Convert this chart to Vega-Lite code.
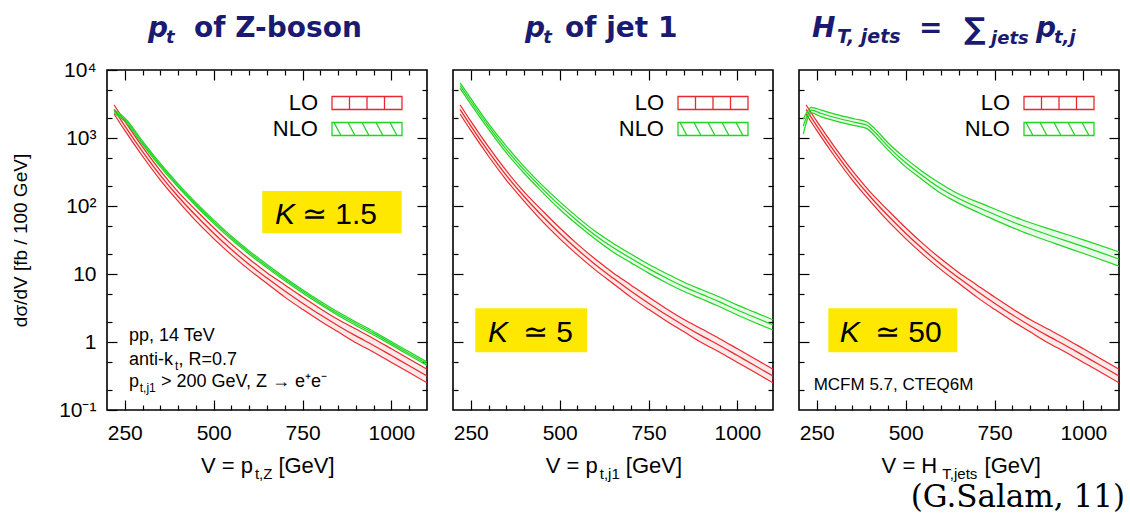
{
"$schema": "https://vega.github.io/schema/vega-lite/v6.json",
"background": "white",
"padding": {"left": 10, "top": 14, "right": 0, "bottom": 0},
"datasets": {"curves": [
{"p":"all","s":"LO","v":220,"lo":2248,"c":2630,"hi":3077},
{"p":"all","s":"LO","v":250,"lo":1291,"c":1510,"hi":1767},
{"p":"all","s":"LO","v":300,"lo":539,"c":631,"hi":738},
{"p":"all","s":"LO","v":350,"lo":241,"c":282,"hi":330},
{"p":"all","s":"LO","v":400,"lo":118,"c":138,"hi":161},
{"p":"all","s":"LO","v":450,"lo":60.3,"c":72.4,"hi":86.9},
{"p":"all","s":"LO","v":500,"lo":33.2,"c":39.8,"hi":47.8},
{"p":"all","s":"LO","v":550,"lo":19.1,"c":22.9,"hi":27.5},
{"p":"all","s":"LO","v":600,"lo":11.5,"c":13.8,"hi":16.6},
{"p":"all","s":"LO","v":650,"lo":7.26,"c":8.71,"hi":10.45},
{"p":"all","s":"LO","v":700,"lo":4.57,"c":5.62,"hi":6.91},
{"p":"all","s":"LO","v":750,"lo":3.02,"c":3.72,"hi":4.58},
{"p":"all","s":"LO","v":800,"lo":2.04,"c":2.51,"hi":3.09},
{"p":"all","s":"LO","v":850,"lo":1.41,"c":1.74,"hi":2.14},
{"p":"all","s":"LO","v":900,"lo":0.976,"c":1.23,"hi":1.55},
{"p":"all","s":"LO","v":950,"lo":0.707,"c":0.891,"hi":1.12},
{"p":"all","s":"LO","v":1000,"lo":0.501,"c":0.631,"hi":0.795},
{"p":"all","s":"LO","v":1050,"lo":0.355,"c":0.447,"hi":0.563},
{"p":"all","s":"LO","v":1100,"lo":0.251,"c":0.316,"hi":0.398},
{"p":"Z","s":"NLO","v":220,"lo":2311,"c":2450,"hi":2597},
{"p":"Z","s":"NLO","v":250,"lo":1755,"c":1860,"hi":1972},
{"p":"Z","s":"NLO","v":300,"lo":803,"c":851,"hi":902},
{"p":"Z","s":"NLO","v":350,"lo":375,"c":398,"hi":422},
{"p":"Z","s":"NLO","v":400,"lo":189,"c":200,"hi":212},
{"p":"Z","s":"NLO","v":450,"lo":100,"c":106,"hi":112},
{"p":"Z","s":"NLO","v":500,"lo":55.6,"c":58.9,"hi":62.4},
{"p":"Z","s":"NLO","v":550,"lo":32.0,"c":33.9,"hi":35.9},
{"p":"Z","s":"NLO","v":600,"lo":19.5,"c":20.7,"hi":21.9},
{"p":"Z","s":"NLO","v":650,"lo":12.3,"c":13.0,"hi":13.8},
{"p":"Z","s":"NLO","v":700,"lo":7.93,"c":8.41,"hi":8.91},
{"p":"Z","s":"NLO","v":750,"lo":5.25,"c":5.56,"hi":5.89},
{"p":"Z","s":"NLO","v":800,"lo":3.55,"c":3.76,"hi":3.99},
{"p":"Z","s":"NLO","v":850,"lo":2.45,"c":2.60,"hi":2.76},
{"p":"Z","s":"NLO","v":900,"lo":1.75,"c":1.86,"hi":1.97},
{"p":"Z","s":"NLO","v":950,"lo":1.27,"c":1.35,"hi":1.43},
{"p":"Z","s":"NLO","v":1000,"lo":0.901,"c":0.955,"hi":1.01},
{"p":"Z","s":"NLO","v":1050,"lo":0.638,"c":0.676,"hi":0.717},
{"p":"Z","s":"NLO","v":1100,"lo":0.452,"c":0.479,"hi":0.508},
{"p":"J","s":"NLO","v":220,"lo":5355,"c":5890,"hi":6479},
{"p":"J","s":"NLO","v":250,"lo":3155,"c":3470,"hi":3817},
{"p":"J","s":"NLO","v":300,"lo":1345,"c":1480,"hi":1628},
{"p":"J","s":"NLO","v":350,"lo":604,"c":676,"hi":757},
{"p":"J","s":"NLO","v":400,"lo":303,"c":339,"hi":380},
{"p":"J","s":"NLO","v":450,"lo":162.5,"c":182,"hi":204},
{"p":"J","s":"NLO","v":500,"lo":89.5,"c":102,"hi":116},
{"p":"J","s":"NLO","v":550,"lo":52.9,"c":60.3,"hi":68.7},
{"p":"J","s":"NLO","v":600,"lo":32.6,"c":37.2,"hi":42.4},
{"p":"J","s":"NLO","v":650,"lo":21.1,"c":24.5,"hi":28.4},
{"p":"J","s":"NLO","v":700,"lo":14.7,"c":17.0,"hi":19.7},
{"p":"J","s":"NLO","v":750,"lo":10.3,"c":12.0,"hi":13.9},
{"p":"J","s":"NLO","v":800,"lo":7.44,"c":8.71,"hi":10.2},
{"p":"J","s":"NLO","v":850,"lo":5.52,"c":6.46,"hi":7.56},
{"p":"J","s":"NLO","v":900,"lo":4.28,"c":5.01,"hi":5.86},
{"p":"J","s":"NLO","v":950,"lo":3.30,"c":3.89,"hi":4.59},
{"p":"J","s":"NLO","v":1000,"lo":2.50,"c":2.95,"hi":3.48},
{"p":"J","s":"NLO","v":1050,"lo":1.92,"c":2.29,"hi":2.73},
{"p":"J","s":"NLO","v":1100,"lo":1.50,"c":1.78,"hi":2.12},
{"p":"H","s":"NLO","v":212,"lo":1150,"c":1500,"hi":1900},
{"p":"H","s":"NLO","v":235,"lo":2336,"c":2570,"hi":2827},
{"p":"H","s":"NLO","v":263,"lo":2045,"c":2290,"hi":2565},
{"p":"H","s":"NLO","v":310,"lo":1741,"c":1950,"hi":2184},
{"p":"H","s":"NLO","v":357,"lo":1518,"c":1700,"hi":1904},
{"p":"H","s":"NLO","v":390,"lo":1384,"c":1550,"hi":1736},
{"p":"H","s":"NLO","v":413,"lo":1080,"c":1220,"hi":1375},
{"p":"H","s":"NLO","v":450,"lo":668,"c":755,"hi":852},
{"p":"H","s":"NLO","v":497,"lo":389,"c":447,"hi":514},
{"p":"H","s":"NLO","v":544,"lo":250,"c":288,"hi":331},
{"p":"H","s":"NLO","v":591,"lo":164,"c":192,"hi":225},
{"p":"H","s":"NLO","v":638,"lo":118,"c":138,"hi":161},
{"p":"H","s":"NLO","v":731,"lo":69.2,"c":83,"hi":99.6},
{"p":"H","s":"NLO","v":825,"lo":42.6,"c":52,"hi":63.4},
{"p":"H","s":"NLO","v":919,"lo":28.2,"c":35,"hi":43.4},
{"p":"H","s":"NLO","v":1013,"lo":19.0,"c":24,"hi":30.2},
{"p":"H","s":"NLO","v":1100,"lo":13.0,"c":16.6,"hi":21.2}
]},
"spacing": 26,
"bounds": "flush",
"resolve": {"scale": {"x": "independent", "y": "independent", "stroke": "independent"}, "legend": {"stroke": "independent"}},
"hconcat": [
{
"width": 320, "height": 340,
"resolve": {"axis": {"x": "independent", "y": "independent"}},
"layer": [
{"data": {"name": "curves"}, "transform": [{"filter": "datum.p === 'all'"}],
 "mark": {"type": "area", "color": "#e8292b", "opacity": 0.1, "interpolate": "monotone", "clip": true},
 "encoding": {
  "x": {"field": "v", "type": "quantitative", "scale": {"domain": [200, 1100], "nice": false, "zero": false},
        "axis": {"orient": "bottom", "values": [250,300,350,400,450,500,550,600,650,700,750,800,850,900,950,1000,1050], "format": "d", "labelExpr": "datum.value % 250 === 0 ? datum.label : ''", "tickSize": {"condition": {"test": "datum.value % 250 === 0", "value": -10}, "value": -5}, "labelPadding": 22, "title": null}},
  "y": {"field": "lo", "type": "quantitative", "scale": {"type": "log", "domain": [0.1, 10000], "nice": false},
        "axis": {"orient": "left", "values": [0.1,0.2,0.5,1,2,5,10,20,50,100,200,500,1000,2000,5000,10000], "labelExpr": "datum.value == 10000 ? '10⁴' : datum.value == 1000 ? '10³' : datum.value == 100 ? '10²' : datum.value == 10 ? '10' : datum.value == 1 ? '1' : datum.value == 0.1 ? '10⁻¹' : ''", "tickSize": {"condition": {"test": "indexof([0.1,1,10,100,1000,10000], datum.value) >= 0", "value": -10}, "value": -5}, "labelPadding": 21, "title": "dσ/dV [fb / 100 GeV]", "titleFont": "Liberation Sans", "titleFontSize": 19, "titleFontWeight": "normal", "titleColor": "black", "titlePadding": 28}},
  "y2": {"field": "hi"}
 }},
{"data": {"name": "curves"}, "transform": [{"filter": "datum.p === 'Z'"}],
 "mark": {"type": "area", "color": "#22d422", "opacity": 0.1, "interpolate": "monotone", "clip": true},
 "encoding": {"x": {"field": "v", "type": "quantitative", "axis": null}, "y": {"field": "lo", "type": "quantitative", "axis": null}, "y2": {"field": "hi"}}},
{"data": {"name": "curves"}, "transform": [{"filter": "datum.p === 'Z' || datum.p === 'all'"}, {"fold": ["lo", "c", "hi"], "as": ["edge", "val"]}],
 "mark": {"type": "line", "strokeWidth": 1.2, "interpolate": "monotone", "clip": true},
 "encoding": {
  "x": {"field": "v", "type": "quantitative", "axis": {"orient": "top", "values": [250,300,350,400,450,500,550,600,650,700,750,800,850,900,950,1000,1050], "labels": false, "tickSize": {"condition": {"test": "datum.value % 250 === 0", "value": -10}, "value": -5}, "title": null}},
  "y": {"field": "val", "type": "quantitative", "axis": {"orient": "right", "values": [0.2,0.5,1,2,5,10,20,50,100,200,500,1000,2000,5000], "labels": false, "tickSize": {"condition": {"test": "indexof([0.1,1,10,100,1000,10000], datum.value) >= 0", "value": -10}, "value": -5}, "title": null}},
  "stroke": {"field": "s", "type": "nominal", "scale": {"domain": ["LO", "NLO"], "range": ["#e8292b", "#22d422"]},
    "legend": {"title": null, "orient": "top-right", "offset": 22, "padding": 0, "labelFont": "Liberation Sans", "labelFontSize": 22, "labelColor": "black", "labelAlign": "right", "labelOffset": -60, "symbolSize": 100, "symbolStrokeWidth": 1.3, "rowPadding": 4,
      "encode": {"symbols": {"update": {"shape": {"signal": "datum.value === 'LO' ? 'M-7,-1.3H7V1.3H-7Z M-3.5,-1.3V1.3 M0,-1.3V1.3 M3.5,-1.3V1.3' : 'M-7,-1.3H7V1.3H-7Z M-6.6,-1.3L-5.2,1.3 M-3.8,-1.3L-2.4,1.3 M-1,-1.3L0.4,1.3 M1.8,-1.3L3.2,1.3 M4.6,-1.3L6,1.3'"}, "fill": {"value": "transparent"}}}}}},
  "detail": {"field": "edge"}
 }},
{"data": {"values": [{}]}, "mark": {"type": "rect", "color": "#ffe800"},
 "encoding": {"x": {"datum": 636.7, "type": "quantitative", "axis": null}, "x2": {"datum": 1028.7}, "y": {"datum": 39.6, "type": "quantitative", "axis": null}, "y2": {"datum": 166}}},
{"data": {"values": [{}]}, "mark": {"type": "text", "align": "left", "baseline": "alphabetic", "font": "Liberation Sans", "fontSize": 30, "fontStyle": "italic", "color": "black"},
 "encoding": {"x": {"datum": 672.4, "type": "quantitative", "axis": null}, "y": {"datum": 54.3, "type": "quantitative", "axis": null}, "text": {"value": "K"}}},
{"data": {"values": [{}]}, "mark": {"type": "text", "align": "left", "baseline": "alphabetic", "font": "Liberation Sans", "fontSize": 30, "color": "black"},
 "encoding": {"x": {"datum": 748.4, "type": "quantitative", "axis": null}, "y": {"datum": 54.3, "type": "quantitative", "axis": null}, "text": {"value": "≃ 1.5"}}},
{"data": {"values": [{}]}, "mark": {"type": "text", "align": "left", "baseline": "alphabetic", "font": "DejaVu Sans", "fontSize": 28, "fontWeight": "bold", "fontStyle": "italic", "color": "#1a1a70", "dy": -33},
 "encoding": {"x": {"datum": 315, "type": "quantitative", "axis": null}, "y": {"datum": 10000, "type": "quantitative", "axis": null}, "text": {"value": "p"}}},
{"data": {"values": [{}]}, "mark": {"type": "text", "align": "left", "baseline": "alphabetic", "font": "DejaVu Sans", "fontSize": 18, "fontWeight": "bold", "fontStyle": "italic", "color": "#1a1a70", "dy": -27},
 "encoding": {"x": {"datum": 366, "type": "quantitative", "axis": null}, "y": {"datum": 10000, "type": "quantitative", "axis": null}, "text": {"value": "t"}}},
{"data": {"values": [{}]}, "mark": {"type": "text", "align": "left", "baseline": "alphabetic", "font": "DejaVu Sans", "fontSize": 28, "fontWeight": "bold", "color": "#1a1a70", "dy": -33},
 "encoding": {"x": {"datum": 445, "type": "quantitative", "axis": null}, "y": {"datum": 10000, "type": "quantitative", "axis": null}, "text": {"value": "of Z-boson"}}},
{"data": {"values": [{}]}, "mark": {"type": "text", "align": "left", "baseline": "alphabetic", "font": "Liberation Sans", "fontSize": 22, "color": "black", "dy": 63},
 "encoding": {"x": {"datum": 464.3, "type": "quantitative", "axis": null}, "y": {"datum": 0.1, "type": "quantitative", "axis": null}, "text": {"value": "V = p"}}},
{"data": {"values": [{}]}, "mark": {"type": "text", "align": "left", "baseline": "alphabetic", "font": "Liberation Sans", "fontSize": 15, "color": "black", "dy": 69},
 "encoding": {"x": {"datum": 616, "type": "quantitative", "axis": null}, "y": {"datum": 0.1, "type": "quantitative", "axis": null}, "text": {"value": "t,Z"}}},
{"data": {"values": [{}]}, "mark": {"type": "text", "align": "left", "baseline": "alphabetic", "font": "Liberation Sans", "fontSize": 22, "color": "black", "dy": 63},
 "encoding": {"x": {"datum": 682, "type": "quantitative", "axis": null}, "y": {"datum": 0.1, "type": "quantitative", "axis": null}, "text": {"value": "[GeV]"}}},
{"data": {"values": [{}]}, "mark": {"type": "text", "align": "left", "baseline": "alphabetic", "font": "Liberation Sans", "fontSize": 18, "color": "black"},
 "encoding": {"x": {"datum": 261.9, "type": "quantitative", "axis": null}, "y": {"datum": 1.045, "type": "quantitative", "axis": null}, "text": {"value": "pp, 14 TeV"}}},
{"data": {"values": [{}]}, "mark": {"type": "text", "align": "left", "baseline": "alphabetic", "font": "Liberation Sans", "fontSize": 18, "color": "black"},
 "encoding": {"x": {"datum": 261.9, "type": "quantitative", "axis": null}, "y": {"datum": 0.459, "type": "quantitative", "axis": null}, "text": {"value": "anti-k"}}},
{"data": {"values": [{}]}, "mark": {"type": "text", "align": "left", "baseline": "alphabetic", "font": "Liberation Sans", "fontSize": 12, "color": "black"},
 "encoding": {"x": {"datum": 391, "type": "quantitative", "axis": null}, "y": {"datum": 0.387, "type": "quantitative", "axis": null}, "text": {"value": "t"}}},
{"data": {"values": [{}]}, "mark": {"type": "text", "align": "left", "baseline": "alphabetic", "font": "Liberation Sans", "fontSize": 18, "color": "black"},
 "encoding": {"x": {"datum": 401, "type": "quantitative", "axis": null}, "y": {"datum": 0.459, "type": "quantitative", "axis": null}, "text": {"value": ", R=0.7"}}},
{"data": {"values": [{}]}, "mark": {"type": "text", "align": "left", "baseline": "alphabetic", "font": "Liberation Sans", "fontSize": 18, "color": "black"},
 "encoding": {"x": {"datum": 261.9, "type": "quantitative", "axis": null}, "y": {"datum": 0.22, "type": "quantitative", "axis": null}, "text": {"value": "p"}}},
{"data": {"values": [{}]}, "mark": {"type": "text", "align": "left", "baseline": "alphabetic", "font": "Liberation Sans", "fontSize": 12, "color": "black"},
 "encoding": {"x": {"datum": 292, "type": "quantitative", "axis": null}, "y": {"datum": 0.186, "type": "quantitative", "axis": null}, "text": {"value": "t,j1"}}},
{"data": {"values": [{}]}, "mark": {"type": "text", "align": "left", "baseline": "alphabetic", "font": "Liberation Sans", "fontSize": 18, "color": "black"},
 "encoding": {"x": {"datum": 351.9, "type": "quantitative", "axis": null}, "y": {"datum": 0.22, "type": "quantitative", "axis": null}, "text": {"value": "> 200 GeV, Z → e⁺e⁻"}}}
]
},
{
"width": 320, "height": 340,
"resolve": {"axis": {"x": "independent", "y": "independent"}},
"layer": [
{"data": {"name": "curves"}, "transform": [{"filter": "datum.p === 'all'"}],
 "mark": {"type": "area", "color": "#e8292b", "opacity": 0.1, "interpolate": "monotone", "clip": true},
 "encoding": {
  "x": {"field": "v", "type": "quantitative", "scale": {"domain": [200, 1100], "nice": false, "zero": false},
        "axis": {"orient": "bottom", "values": [250,300,350,400,450,500,550,600,650,700,750,800,850,900,950,1000,1050], "format": "d", "labelExpr": "datum.value % 250 === 0 ? datum.label : ''", "tickSize": {"condition": {"test": "datum.value % 250 === 0", "value": -10}, "value": -5}, "labelPadding": 22, "title": null}},
  "y": {"field": "lo", "type": "quantitative", "scale": {"type": "log", "domain": [0.1, 10000], "nice": false},
        "axis": {"orient": "left", "values": [0.2,0.5,1,2,5,10,20,50,100,200,500,1000,2000,5000], "labels": false, "tickSize": {"condition": {"test": "indexof([0.1,1,10,100,1000,10000], datum.value) >= 0", "value": -10}, "value": -5}, "title": null}},
  "y2": {"field": "hi"}
 }},
{"data": {"name": "curves"}, "transform": [{"filter": "datum.p === 'J'"}],
 "mark": {"type": "area", "color": "#22d422", "opacity": 0.1, "interpolate": "monotone", "clip": true},
 "encoding": {"x": {"field": "v", "type": "quantitative", "axis": null}, "y": {"field": "lo", "type": "quantitative", "axis": null}, "y2": {"field": "hi"}}},
{"data": {"name": "curves"}, "transform": [{"filter": "datum.p === 'J' || datum.p === 'all'"}, {"fold": ["lo", "c", "hi"], "as": ["edge", "val"]}],
 "mark": {"type": "line", "strokeWidth": 1.2, "interpolate": "monotone", "clip": true},
 "encoding": {
  "x": {"field": "v", "type": "quantitative", "axis": {"orient": "top", "values": [250,300,350,400,450,500,550,600,650,700,750,800,850,900,950,1000,1050], "labels": false, "tickSize": {"condition": {"test": "datum.value % 250 === 0", "value": -10}, "value": -5}, "title": null}},
  "y": {"field": "val", "type": "quantitative", "axis": {"orient": "right", "values": [0.2,0.5,1,2,5,10,20,50,100,200,500,1000,2000,5000], "labels": false, "tickSize": {"condition": {"test": "indexof([0.1,1,10,100,1000,10000], datum.value) >= 0", "value": -10}, "value": -5}, "title": null}},
  "stroke": {"field": "s", "type": "nominal", "scale": {"domain": ["LO", "NLO"], "range": ["#e8292b", "#22d422"]},
    "legend": {"title": null, "orient": "top-right", "offset": 22, "padding": 0, "labelFont": "Liberation Sans", "labelFontSize": 22, "labelColor": "black", "labelAlign": "right", "labelOffset": -60, "symbolSize": 100, "symbolStrokeWidth": 1.3, "rowPadding": 4,
      "encode": {"symbols": {"update": {"shape": {"signal": "datum.value === 'LO' ? 'M-7,-1.3H7V1.3H-7Z M-3.5,-1.3V1.3 M0,-1.3V1.3 M3.5,-1.3V1.3' : 'M-7,-1.3H7V1.3H-7Z M-6.6,-1.3L-5.2,1.3 M-3.8,-1.3L-2.4,1.3 M-1,-1.3L0.4,1.3 M1.8,-1.3L3.2,1.3 M4.6,-1.3L6,1.3'"}, "fill": {"value": "transparent"}}}}}},
  "detail": {"field": "edge"}
 }},
{"data": {"values": [{}]}, "mark": {"type": "rect", "color": "#ffe800"},
 "encoding": {"x": {"datum": 262.8, "type": "quantitative", "axis": null}, "x2": {"datum": 576.8}, "y": {"datum": 0.706, "type": "quantitative", "axis": null}, "y2": {"datum": 3.13}}},
{"data": {"values": [{}]}, "mark": {"type": "text", "align": "left", "baseline": "alphabetic", "font": "Liberation Sans", "fontSize": 30, "fontStyle": "italic", "color": "black"},
 "encoding": {"x": {"datum": 298.4, "type": "quantitative", "axis": null}, "y": {"datum": 0.989, "type": "quantitative", "axis": null}, "text": {"value": "K"}}},
{"data": {"values": [{}]}, "mark": {"type": "text", "align": "left", "baseline": "alphabetic", "font": "Liberation Sans", "fontSize": 30, "color": "black"},
 "encoding": {"x": {"datum": 396.9, "type": "quantitative", "axis": null}, "y": {"datum": 0.989, "type": "quantitative", "axis": null}, "text": {"value": "≃ 5"}}},
{"data": {"values": [{}]}, "mark": {"type": "text", "align": "left", "baseline": "alphabetic", "font": "DejaVu Sans", "fontSize": 28, "fontWeight": "bold", "fontStyle": "italic", "color": "#1a1a70", "dy": -33},
 "encoding": {"x": {"datum": 402.5, "type": "quantitative", "axis": null}, "y": {"datum": 10000, "type": "quantitative", "axis": null}, "text": {"value": "p"}}},
{"data": {"values": [{}]}, "mark": {"type": "text", "align": "left", "baseline": "alphabetic", "font": "DejaVu Sans", "fontSize": 18, "fontWeight": "bold", "fontStyle": "italic", "color": "#1a1a70", "dy": -27},
 "encoding": {"x": {"datum": 453.5, "type": "quantitative", "axis": null}, "y": {"datum": 10000, "type": "quantitative", "axis": null}, "text": {"value": "t"}}},
{"data": {"values": [{}]}, "mark": {"type": "text", "align": "left", "baseline": "alphabetic", "font": "DejaVu Sans", "fontSize": 28, "fontWeight": "bold", "color": "#1a1a70", "dy": -33},
 "encoding": {"x": {"datum": 515, "type": "quantitative", "axis": null}, "y": {"datum": 10000, "type": "quantitative", "axis": null}, "text": {"value": "of jet 1"}}},
{"data": {"values": [{}]}, "mark": {"type": "text", "align": "left", "baseline": "alphabetic", "font": "Liberation Sans", "fontSize": 22, "color": "black", "dy": 63},
 "encoding": {"x": {"datum": 461.0, "type": "quantitative", "axis": null}, "y": {"datum": 0.1, "type": "quantitative", "axis": null}, "text": {"value": "V = p"}}},
{"data": {"values": [{}]}, "mark": {"type": "text", "align": "left", "baseline": "alphabetic", "font": "Liberation Sans", "fontSize": 15, "color": "black", "dy": 69},
 "encoding": {"x": {"datum": 612.8, "type": "quantitative", "axis": null}, "y": {"datum": 0.1, "type": "quantitative", "axis": null}, "text": {"value": "t,j1"}}},
{"data": {"values": [{}]}, "mark": {"type": "text", "align": "left", "baseline": "alphabetic", "font": "Liberation Sans", "fontSize": 22, "color": "black", "dy": 63},
 "encoding": {"x": {"datum": 686, "type": "quantitative", "axis": null}, "y": {"datum": 0.1, "type": "quantitative", "axis": null}, "text": {"value": "[GeV]"}}}
]
},
{
"width": 320, "height": 340,
"resolve": {"axis": {"x": "independent", "y": "independent"}},
"layer": [
{"data": {"name": "curves"}, "transform": [{"filter": "datum.p === 'all'"}],
 "mark": {"type": "area", "color": "#e8292b", "opacity": 0.1, "interpolate": "monotone", "clip": true},
 "encoding": {
  "x": {"field": "v", "type": "quantitative", "scale": {"domain": [200, 1100], "nice": false, "zero": false},
        "axis": {"orient": "bottom", "values": [250,300,350,400,450,500,550,600,650,700,750,800,850,900,950,1000,1050], "format": "d", "labelExpr": "datum.value % 250 === 0 ? datum.label : ''", "tickSize": {"condition": {"test": "datum.value % 250 === 0", "value": -10}, "value": -5}, "labelPadding": 22, "title": null}},
  "y": {"field": "lo", "type": "quantitative", "scale": {"type": "log", "domain": [0.1, 10000], "nice": false},
        "axis": {"orient": "left", "values": [0.2,0.5,1,2,5,10,20,50,100,200,500,1000,2000,5000], "labels": false, "tickSize": {"condition": {"test": "indexof([0.1,1,10,100,1000,10000], datum.value) >= 0", "value": -10}, "value": -5}, "title": null}},
  "y2": {"field": "hi"}
 }},
{"data": {"name": "curves"}, "transform": [{"filter": "datum.p === 'H'"}],
 "mark": {"type": "area", "color": "#22d422", "opacity": 0.1, "interpolate": "monotone", "clip": true},
 "encoding": {"x": {"field": "v", "type": "quantitative", "axis": null}, "y": {"field": "lo", "type": "quantitative", "axis": null}, "y2": {"field": "hi"}}},
{"data": {"name": "curves"}, "transform": [{"filter": "datum.p === 'H' || datum.p === 'all'"}, {"fold": ["lo", "c", "hi"], "as": ["edge", "val"]}],
 "mark": {"type": "line", "strokeWidth": 1.2, "interpolate": "monotone", "clip": true},
 "encoding": {
  "x": {"field": "v", "type": "quantitative", "axis": {"orient": "top", "values": [250,300,350,400,450,500,550,600,650,700,750,800,850,900,950,1000,1050], "labels": false, "tickSize": {"condition": {"test": "datum.value % 250 === 0", "value": -10}, "value": -5}, "title": null}},
  "y": {"field": "val", "type": "quantitative", "axis": {"orient": "right", "values": [0.2,0.5,1,2,5,10,20,50,100,200,500,1000,2000,5000], "labels": false, "tickSize": {"condition": {"test": "indexof([0.1,1,10,100,1000,10000], datum.value) >= 0", "value": -10}, "value": -5}, "title": null}},
  "stroke": {"field": "s", "type": "nominal", "scale": {"domain": ["LO", "NLO"], "range": ["#e8292b", "#22d422"]},
    "legend": {"title": null, "orient": "top-right", "offset": 22, "padding": 0, "labelFont": "Liberation Sans", "labelFontSize": 22, "labelColor": "black", "labelAlign": "right", "labelOffset": -60, "symbolSize": 100, "symbolStrokeWidth": 1.3, "rowPadding": 4,
      "encode": {"symbols": {"update": {"shape": {"signal": "datum.value === 'LO' ? 'M-7,-1.3H7V1.3H-7Z M-3.5,-1.3V1.3 M0,-1.3V1.3 M3.5,-1.3V1.3' : 'M-7,-1.3H7V1.3H-7Z M-6.6,-1.3L-5.2,1.3 M-3.8,-1.3L-2.4,1.3 M-1,-1.3L0.4,1.3 M1.8,-1.3L3.2,1.3 M4.6,-1.3L6,1.3'"}, "fill": {"value": "transparent"}}}}}},
  "detail": {"field": "edge"}
 }},
{"data": {"values": [{}]}, "mark": {"type": "rect", "color": "#ffe800"},
 "encoding": {"x": {"datum": 282.5, "type": "quantitative", "axis": null}, "x2": {"datum": 645.3}, "y": {"datum": 0.706, "type": "quantitative", "axis": null}, "y2": {"datum": 3.13}}},
{"data": {"values": [{}]}, "mark": {"type": "text", "align": "left", "baseline": "alphabetic", "font": "Liberation Sans", "fontSize": 30, "fontStyle": "italic", "color": "black"},
 "encoding": {"x": {"datum": 314.6, "type": "quantitative", "axis": null}, "y": {"datum": 0.989, "type": "quantitative", "axis": null}, "text": {"value": "K"}}},
{"data": {"values": [{}]}, "mark": {"type": "text", "align": "left", "baseline": "alphabetic", "font": "Liberation Sans", "fontSize": 30, "color": "black"},
 "encoding": {"x": {"datum": 413.7, "type": "quantitative", "axis": null}, "y": {"datum": 0.989, "type": "quantitative", "axis": null}, "text": {"value": "≃ 50"}}},
{"data": {"values": [{}]}, "mark": {"type": "text", "align": "left", "baseline": "alphabetic", "font": "DejaVu Sans", "fontSize": 28, "fontWeight": "bold", "fontStyle": "italic", "color": "#1a1a70", "dy": -33},
 "encoding": {"x": {"datum": 236.6, "type": "quantitative", "axis": null}, "y": {"datum": 10000, "type": "quantitative", "axis": null}, "text": {"value": "H"}}},
{"data": {"values": [{}]}, "mark": {"type": "text", "align": "left", "baseline": "alphabetic", "font": "DejaVu Sans", "fontSize": 19, "fontWeight": "bold", "fontStyle": "italic", "color": "#1a1a70", "dy": -27},
 "encoding": {"x": {"datum": 306.9, "type": "quantitative", "axis": null}, "y": {"datum": 10000, "type": "quantitative", "axis": null}, "text": {"value": "T, jets"}}},
{"data": {"values": [{}]}, "mark": {"type": "text", "align": "left", "baseline": "alphabetic", "font": "DejaVu Sans", "fontSize": 28, "fontWeight": "bold", "color": "#1a1a70", "dy": -33},
 "encoding": {"x": {"datum": 537.5, "type": "quantitative", "axis": null}, "y": {"datum": 10000, "type": "quantitative", "axis": null}, "text": {"value": "="}}},
{"data": {"values": [{}]}, "mark": {"type": "text", "align": "left", "baseline": "alphabetic", "font": "DejaVu Sans", "fontSize": 30, "fontWeight": "bold", "color": "#1a1a70", "dy": -31},
 "encoding": {"x": {"datum": 664, "type": "quantitative", "axis": null}, "y": {"datum": 10000, "type": "quantitative", "axis": null}, "text": {"value": "∑"}}},
{"data": {"values": [{}]}, "mark": {"type": "text", "align": "left", "baseline": "alphabetic", "font": "DejaVu Sans", "fontSize": 18, "fontWeight": "bold", "fontStyle": "italic", "color": "#1a1a70", "dy": -26},
 "encoding": {"x": {"datum": 740, "type": "quantitative", "axis": null}, "y": {"datum": 10000, "type": "quantitative", "axis": null}, "text": {"value": "jets"}}},
{"data": {"values": [{}]}, "mark": {"type": "text", "align": "left", "baseline": "alphabetic", "font": "DejaVu Sans", "fontSize": 28, "fontWeight": "bold", "fontStyle": "italic", "color": "#1a1a70", "dy": -33},
 "encoding": {"x": {"datum": 866.5, "type": "quantitative", "axis": null}, "y": {"datum": 10000, "type": "quantitative", "axis": null}, "text": {"value": "p"}}},
{"data": {"values": [{}]}, "mark": {"type": "text", "align": "left", "baseline": "alphabetic", "font": "DejaVu Sans", "fontSize": 18, "fontWeight": "bold", "fontStyle": "italic", "color": "#1a1a70", "dy": -27},
 "encoding": {"x": {"datum": 917, "type": "quantitative", "axis": null}, "y": {"datum": 10000, "type": "quantitative", "axis": null}, "text": {"value": "t,j"}}},
{"data": {"values": [{}]}, "mark": {"type": "text", "align": "left", "baseline": "alphabetic", "font": "Liberation Sans", "fontSize": 22, "color": "black", "dy": 63},
 "encoding": {"x": {"datum": 432.3, "type": "quantitative", "axis": null}, "y": {"datum": 0.1, "type": "quantitative", "axis": null}, "text": {"value": "V = H"}}},
{"data": {"values": [{}]}, "mark": {"type": "text", "align": "left", "baseline": "alphabetic", "font": "Liberation Sans", "fontSize": 15, "color": "black", "dy": 69},
 "encoding": {"x": {"datum": 603, "type": "quantitative", "axis": null}, "y": {"datum": 0.1, "type": "quantitative", "axis": null}, "text": {"value": "T,jets"}}},
{"data": {"values": [{}]}, "mark": {"type": "text", "align": "left", "baseline": "alphabetic", "font": "Liberation Sans", "fontSize": 22, "color": "black", "dy": 63},
 "encoding": {"x": {"datum": 722, "type": "quantitative", "axis": null}, "y": {"datum": 0.1, "type": "quantitative", "axis": null}, "text": {"value": "[GeV]"}}},
{"data": {"values": [{}]}, "mark": {"type": "text", "align": "left", "baseline": "alphabetic", "font": "Liberation Sans", "fontSize": 17, "color": "black"},
 "encoding": {"x": {"datum": 241.3, "type": "quantitative", "axis": null}, "y": {"datum": 0.197, "type": "quantitative", "axis": null}, "text": {"value": "MCFM 5.7, CTEQ6M"}}},
{"data": {"values": [{}]}, "mark": {"type": "text", "align": "right", "baseline": "alphabetic", "font": "DejaVu Serif", "fontSize": 31, "color": "black", "dx": 6, "dy": 97},
 "encoding": {"x": {"datum": 1100, "type": "quantitative", "axis": null}, "y": {"datum": 0.1, "type": "quantitative", "axis": null}, "text": {"value": "(G.Salam, 11)"}}}
]
}
],
"config": {
 "view": {"stroke": "black", "strokeWidth": 1.6},
 "axis": {"domain": false, "grid": false, "tickColor": "black", "tickWidth": 1.2, "labelFont": "Liberation Sans", "labelFontSize": 21, "labelColor": "black"},
 "text": {"font": "Liberation Sans", "color": "black"}
}
}
